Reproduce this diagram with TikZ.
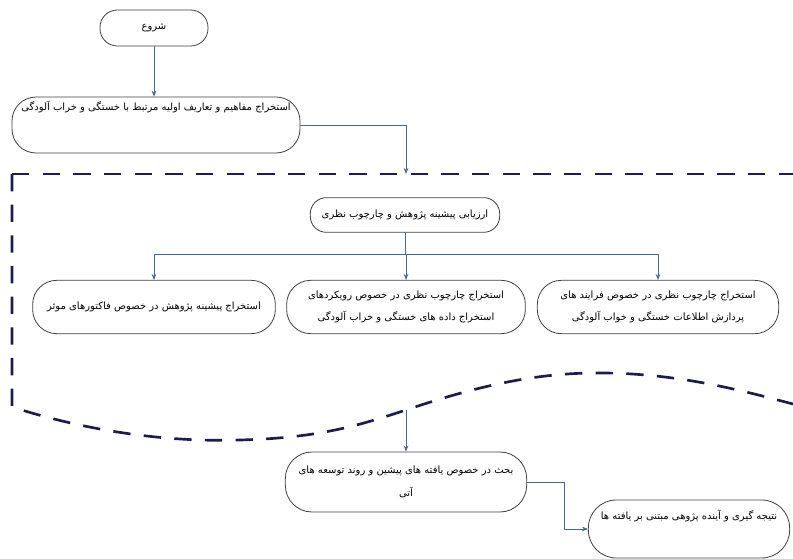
\documentclass[tikz,border=0pt]{standalone}
\usepackage{fontspec}
\newfontfamily\farsi[Script=Arabic]{DejaVu Sans}
\TeXXeTstate=1
\usetikzlibrary{arrows.meta}
\definecolor{linkblue}{HTML}{4A6890}
\definecolor{borderblue}{HTML}{1C1C50}
\newcommand{\fa}[1]{\beginR #1\endR}
\begin{document}
\begin{tikzpicture}[x=0.75pt, y=-0.75pt,
	box/.style = {draw=black!75, line width=0.6pt, fill=white, rounded corners=#1,
		font=\farsi\fontsize{7.5}{17}\selectfont, align=center, inner sep=3pt},
	box/.default = 16pt,
	link/.style = {draw=linkblue, line width=0.6pt, -{Stealth[length=4.5pt,width=3.5pt]}},
	border/.style = {draw=borderblue, line width=2pt, dash pattern=on 13pt off 10pt}]
	\useasboundingbox (0,0) rectangle (793,559);
	% top part
	\node [box=13pt, minimum width=81pt, minimum height=27pt] (start) at (154,28) {\fa{شروع}};
	\node [box=18pt, minimum width=216pt, minimum height=42pt, text height=7pt, text depth=29pt] (concepts) at (156,125)
		{\fa{استخراج مفاهیم و تعاریف اولیه مرتبط با خستگی و خراب آلودگی}};
	% dashed frame
	\draw [border] (12,174) -- (793,174);
	\draw [border] (12,174) -- (12,407) .. controls (100,435) and (180,442) .. (240,440)
		.. controls (320,438) and (360,425) .. (406,410)
		.. controls (480,385) and (540,372) .. (605,373)
		.. controls (680,374) and (740,390) .. (793,404);
	\coordinate (frametop) at (406,174);
	\coordinate (framebottom) at (406,410);
	% review
	\node [box=12pt, minimum width=142pt, minimum height=26pt] (review) at (405,215)
		{\fa{ارزیابی پیشینه پژوهش و چارچوب نظری}};
	\node [box=18pt, minimum width=182pt, minimum height=40pt] (factors) at (154,307)
		{\fa{استخراج پیشینه پژوهش در خصوص فاکتورهای موثر}};
	\node [box=18pt, minimum width=179pt, minimum height=40pt] (approaches) at (406,307)
		{\fa{استخراج چارچوب نظری در خصوص رویکردهای}\\\fa{استخراج داده های خستگی و خراب آلودگی}};
	\node [box=18pt, minimum width=181pt, minimum height=40pt] (processes) at (658,307)
		{\fa{استخراج چارچوب نظری در خصوص فرایند های}\\\fa{پردازش اطلاعات خستگی و خواب آلودگی}};
	% bottom part
	\node [box=20pt, minimum width=181pt, minimum height=45pt] (discussion) at (406,482)
		{\fa{بحث در خصوص یافته های پیشین و روند توسعه های}\\\fa{آتی}};
	\node [box=21pt, minimum width=151pt, minimum height=43.5pt, text height=10pt, text depth=24.5pt] (outlook) at (689,529)
		{\fa{نتیجه گیری و آینده پژوهی مبتنی بر یافته ها}};
	% connectors
	\draw [link] (start) -- (start |- concepts.north);
	\draw [link] (concepts.east) -| (frametop);
	\foreach \n in {factors, approaches, processes}
		\draw [link] (review.south) -- ++(0,22) -| (\n.north);
	\draw [link] (framebottom) -- (discussion.north);
	\draw [link] (discussion.east) -- ++(37,0) |- (outlook.west);
\end{tikzpicture}
\end{document}
